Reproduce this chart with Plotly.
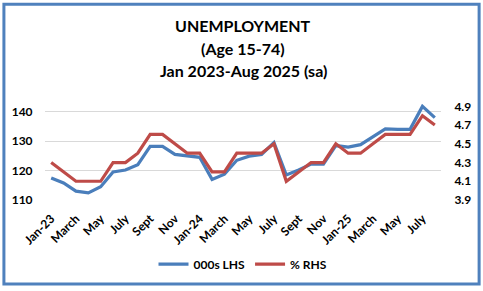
import plotly.graph_objects as go

months = ["Jan-23","Feb-23","Mar-23","Apr-23","May-23","Jun-23","Jul-23","Aug-23","Sep-23","Oct-23","Nov-23","Dec-23",
          "Jan-24","Feb-24","Mar-24","Apr-24","May-24","Jun-24","Jul-24","Aug-24","Sep-24","Oct-24","Nov-24","Dec-24",
          "Jan-25","Feb-25","Mar-25","Apr-25","May-25","Jun-25","Jul-25","Aug-25"]
unemp_000s = [117.5,115.8,113.0,112.4,114.5,119.5,120.2,122.0,128.2,128.2,125.5,125.0,
              124.5,117.0,118.8,123.5,124.9,125.5,129.5,118.5,120.2,122.2,122.2,128.5,
              128.0,128.8,131.6,134.2,134.0,134.0,141.8,138.0]
unemp_rate = [4.3,4.2,4.1,4.1,4.1,4.3,4.3,4.4,4.6,4.6,4.5,4.4,
              4.4,4.2,4.2,4.4,4.4,4.4,4.5,4.1,4.2,4.3,4.3,4.5,
              4.4,4.4,4.5,4.6,4.6,4.6,4.8,4.7]
tick_months = months[::2]
tick_labels = ["Jan-23","March","May","July","Sept","Nov","Jan-24","March","May","July","Sept","Nov",
               "Jan-25","March","May","July"]
left_ticks = [110, 120, 130, 140]
right_ticks = [3.9, 4.1, 4.3, 4.5, 4.7, 4.9]
title_lines = ["UNEMPLOYMENT", "(Age 15-74)", "Jan 2023-Aug 2025 (sa)"]

BLUE = "#4A7EBB"
RED = "#BE4B48"
FONT = "Lato"

W, H = 483, 291
L, R, T, B = 43, 40, 97, 88
pw, ph = W - L - R, H - T - B

def px_x(x):
    return (x - L) / pw

def px_y(y):
    return (H - B - y) / ph

fig = go.Figure()
fig.add_trace(go.Scatter(x=months, y=unemp_000s, name="000s LHS", mode="lines",
                         line=dict(color=BLUE, width=3.2)))
fig.add_trace(go.Scatter(x=months, y=unemp_rate, name="% RHS", mode="lines", yaxis="y2",
                         line=dict(color=RED, width=3.2)))

tickfont = dict(family=FONT, size=12, color="#000000", weight="bold")

fig.update_layout(
    width=W, height=H,
    margin=dict(l=L, r=R, t=T, b=B),
    paper_bgcolor="white", plot_bgcolor="white",
    showlegend=True,
    legend=dict(orientation="h", x=0.5, xanchor="center", y=px_y(269), yanchor="middle",
                font=dict(family=FONT, size=12, color="#000000", weight="bold"),
                bgcolor="rgba(0,0,0,0)", itemwidth=30),
    xaxis=dict(type="category", categoryorder="array", categoryarray=months,
               range=[-0.5, len(months) - 0.5],
               tickmode="array", tickvals=tick_months, ticktext=tick_labels,
               tickangle=-45, tickfont=tickfont, showgrid=False, zeroline=False,
               showline=False, ticks="outside", ticklen=6, tickcolor="rgba(0,0,0,0)"),
    yaxis=dict(range=[110, 145], tickmode="array", tickvals=left_ticks,
               tickfont=tickfont, showgrid=True, gridcolor="#D9D9D9", gridwidth=1,
               zeroline=False, showline=False, ticks="outside", ticklen=9, tickcolor="rgba(0,0,0,0)"),
    yaxis2=dict(range=[3.9, 5.0], overlaying="y", side="right", tickmode="array",
                tickvals=right_ticks, tickformat=".1f", tickfont=tickfont, showgrid=False,
                zeroline=False, showline=False, ticks="outside", ticklen=10, tickcolor="rgba(0,0,0,0)"),
)

for line, yp in zip(title_lines, [23, 47, 70]):
    fig.add_annotation(text=line, xref="paper", yref="paper", x=px_x(243), y=px_y(yp),
                       xanchor="center", yanchor="middle", showarrow=False,
                       font=dict(family=FONT, size=16, color="#000000", weight="bold"))

fig.add_shape(type="rect", xref="paper", yref="paper",
              x0=px_x(1.5), x1=px_x(W - 1.5), y0=px_y(H - 1.5), y1=px_y(1.5),
              line=dict(color="#4F81BD", width=3), fillcolor="rgba(0,0,0,0)", layer="above")

fig.write_html("out.html")
